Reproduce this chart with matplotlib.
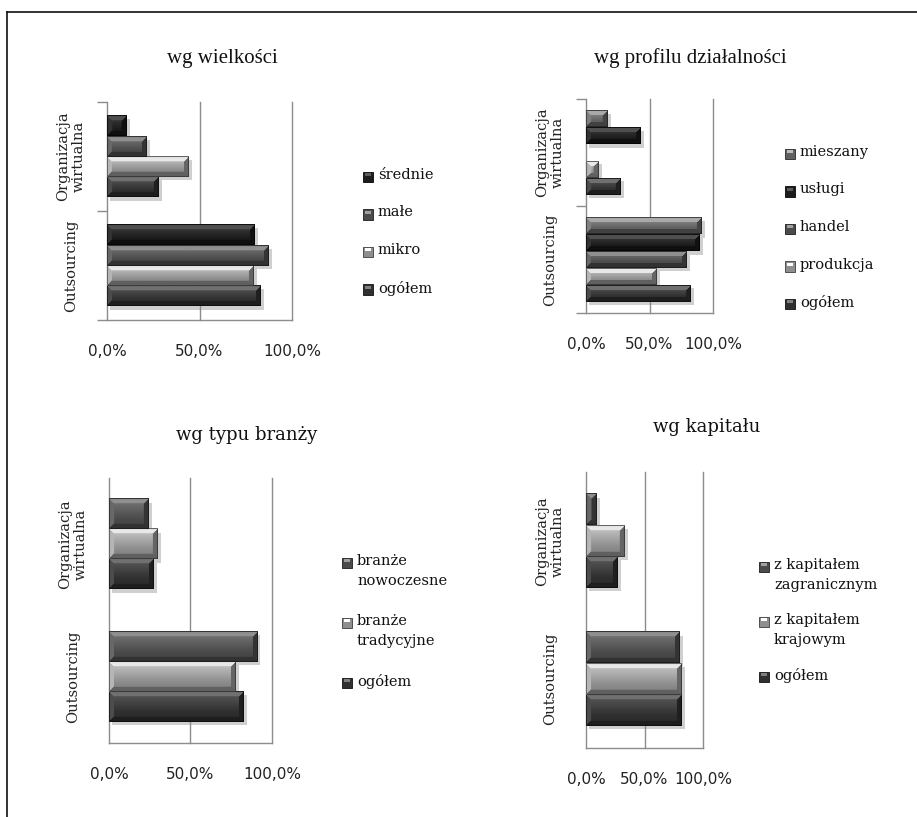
import textwrap
import numpy as np
import matplotlib
matplotlib.use("Agg")
import matplotlib.pyplot as plt
from matplotlib import patheffects
from matplotlib.patches import Rectangle
from matplotlib.lines import Line2D

# ---- data -------------------------------------------------------------
categories = ["Outsourcing", "Organizacja wirtualna"]

size_title = "wg wielkości"
size_series = ["ogółem", "mikro", "małe", "średnie"]
size_outsourcing = [83.0, 79.1, 87.2, 80.0]
size_virtual = [27.7, 44.3, 21.4, 10.3]

profile_title = "wg profilu działalności"
profile_series = ["ogółem", "produkcja", "handel", "usługi", "mieszany"]
profile_outsourcing = [82.6, 55.2, 79.4, 89.2, 90.8]
profile_virtual = [26.8, 9.7, 0.0, 43.2, 16.8]

industry_title = "wg typu branży"
industry_series = ["ogółem", "branże tradycyjne", "branże nowoczesne"]
industry_outsourcing = [82.5, 77.8, 90.8]
industry_virtual = [27.5, 29.6, 24.0]

capital_title = "wg kapitału"
capital_series = ["ogółem", "z kapitałem krajowym", "z kapitałem zagranicznym"]
capital_outsourcing = [81.6, 81.3, 80.2]
capital_virtual = [27.2, 32.6, 8.8]

x_ticks = [0, 50, 100]
x_tick_labels = ["0,0%", "50,0%", "100,0%"]

# ---- bevel shades (base, highlight, shadow) -------------------------------
SHADES = {
    "dark":   ("#303030", "#808080", "#101010"),
    "darkest": ("#1c1c1c", "#5c5c5c", "#060606"),
    "medium": ("#4b4b4b", "#a0a0a0", "#1e1e1e"),
    "mid_light": ("#606060", "#bcbcbc", "#282828"),
    "light":  ("#8e8e8e", "#ffffff", "#3c3c3c"),
}

W_PX, H_PX = 917, 817
fig = plt.figure(figsize=(W_PX / 100, H_PX / 100), dpi=100)
fig.patch.set_facecolor("white")

SERIF = ["DejaVu Serif"]
TITLE_NARROW = ["Liberation Serif"]


def px_box(x0, y0, x1, y1):
    return [x0 / W_PX, 1 - y1 / H_PX, (x1 - x0) / W_PX, (y1 - y0) / H_PX]


def hex_rgb(c):
    return np.array(matplotlib.colors.to_rgb(c))


def bevel_image(w, h, shade):
    base, hi, lo = (hex_rgb(c) for c in SHADES[shade])
    w = max(int(round(w)), 2)
    h = max(int(round(h)), 2)
    ii, jj = np.mgrid[0:h, 0:w].astype(float)
    dt, db = ii, h - 1 - ii
    dl, dr = jj, w - 1 - jj
    b = min(4.5, h / 4.0, w / 2.2)
    # face: soft vertical gradient, lighter towards the top
    t = ii / max(h - 1, 1)
    prof = np.interp(t, [0.0, 0.3, 0.6, 1.0], [0.55, 0.30, 0.05, -0.25])
    img = np.where(prof[..., None] >= 0,
                   base + (hi - base) * prof[..., None],
                   base + (base - lo) * prof[..., None])
    d = np.stack([dt, db, dl, dr], axis=-1)
    which = np.argmin(d, axis=-1)
    near = d.min(axis=-1) < b
    facet_cols = [
        hi * 0.8 + base * 0.2,
        base * 0.45 + lo * 0.55,
        base * 0.65 + hi * 0.35,
        base * 0.5 + lo * 0.5,
    ]
    for k, col in enumerate(facet_cols):
        m = near & (which == k)
        img[m] = col
    img[-1, :] = lo
    img[:, -1] = lo
    img[0, :] = base * 0.5 + lo * 0.5
    img[:, 0] = base * 0.5 + lo * 0.5
    return np.clip(img, 0, 1)


def panel(box, title, title_xy, title_font, title_size, series, outs, virt,
          shades, group_frac, ticks_out, legend_spec):
    ax = fig.add_axes(px_box(*box))
    n = len(series)
    bw = group_frac / n
    ypos = np.arange(len(categories))
    bars = []
    for i, name in enumerate(series):
        vals = [outs[i], virt[i]]
        off = (i - (n - 1) / 2) * bw
        bc = ax.barh(ypos + off, vals, height=bw, color=SHADES[shades[i]][0],
                     edgecolor="none", zorder=3)
        for p in bc:
            if p.get_width() > 0:
                p.set_path_effects([patheffects.SimplePatchShadow(
                    offset=(2.5, -2.5), shadow_rgbFace="#888888", alpha=0.4),
                    patheffects.Normal()])
        bars.append((bc, shades[i]))
    ax.set_xlim(0, 100)
    ax.set_ylim(-0.5, len(categories) - 0.5)
    ax.set_xticks(x_ticks)
    ax.set_xticklabels(x_tick_labels, fontsize=11, family="DejaVu Sans",
                       color="#222222")
    ax.tick_params(axis="x", length=0, pad=17)
    for xv in x_ticks[1:]:
        ax.axvline(xv, color="#8c8c8c", lw=1.0, zorder=1, clip_on=False)
    for s in ("top", "right"):
        ax.spines[s].set_visible(False)
    for s in ("left", "bottom"):
        ax.spines[s].set_color("#8c8c8c")
        ax.spines[s].set_linewidth(1.0)
    ax.set_yticks(ypos)
    ax.set_yticklabels([textwrap.fill(c, 12) for c in categories],
                       rotation=90, va="center", ha="center",
                       family=SERIF, fontsize=10.5, linespacing=1.1,
                       color="#222222")
    ax.tick_params(axis="y", length=0, pad=26)
    if ticks_out:
        ax.set_yticks(np.arange(-0.5, len(categories), 1.0), minor=True)
        ax.tick_params(axis="y", which="minor", length=7, width=1.0,
                       color="#8c8c8c", direction="out")
    ax.set_facecolor("none")
    fig.text(title_xy[0] / W_PX, 1 - title_xy[1] / H_PX, title,
             family=title_font, fontsize=title_size, ha="center", va="center",
             color="#111111")

    # legend, drawn in the order Excel lists it (last series on top)
    mx, y0, step = legend_spec
    for k, name in enumerate(reversed(series)):
        shade = shades[len(series) - 1 - k]
        yy = y0 + k * step
        sq = 10
        fig.patches.append(Rectangle(((mx) / W_PX, 1 - (yy + sq / 2) / H_PX),
                                     sq / W_PX, sq / H_PX,
                                     transform=fig.transFigure,
                                     facecolor=SHADES[shade][0],
                                     edgecolor=SHADES[shade][2], lw=0.6))
        fig.patches.append(Rectangle(((mx + 2) / W_PX, 1 - (yy - 1) / H_PX),
                                     (sq - 4) / W_PX, 3 / H_PX,
                                     transform=fig.transFigure,
                                     facecolor=SHADES[shade][1],
                                     edgecolor="none"))
        fig.text((mx + 15) / W_PX, 1 - (yy - 9) / H_PX,
                 textwrap.fill(name, 12), family=SERIF, fontsize=10.5,
                 ha="left", va="top", linespacing=1.55, color="#111111")
    return ax, bars


panels = [
    panel((107, 102, 292, 320), size_title, (222, 58), TITLE_NARROW, 15,
          size_series, size_outsourcing, size_virtual,
          ["dark", "light", "medium", "darkest"], 0.75, True,
          (363, 177, 37.5)),
    panel((586, 99, 713, 313), profile_title, (690, 58), TITLE_NARROW, 15,
          profile_series, profile_outsourcing, profile_virtual,
          ["dark", "light", "medium", "darkest", "mid_light"], 0.79, True,
          (785, 154, 37.5)),
    panel((109, 478, 272, 743), industry_title, (247, 435), SERIF, 13,
          industry_series, industry_outsourcing, industry_virtual,
          ["dark", "light", "medium"], 0.68, False,
          (342, 563, 60)),
    panel((586, 472, 703, 748), capital_title, (707, 427), SERIF, 13,
          capital_series, capital_outsourcing, capital_virtual,
          ["dark", "light", "medium"], 0.68, False,
          (759, 567, 55)),
]

# outer frame
fig.add_artist(Line2D([7 / W_PX, 1.0], [1 - 12 / H_PX, 1 - 12 / H_PX],
                      transform=fig.transFigure, color="#111111", lw=1.2))
fig.add_artist(Line2D([7 / W_PX, 7 / W_PX], [0, 1 - 12 / H_PX],
                      transform=fig.transFigure, color="#111111", lw=1.2))

# bevelled fill for every bar, sized to its on-screen extent
fig.canvas.draw()
for ax, bars in panels:
    for bc, shade in bars:
        for p in bc:
            if p.get_width() <= 0:
                continue
            ext = p.get_window_extent()
            img = bevel_image(ext.width, ext.height, shade)
            x0, y0 = p.get_x(), p.get_y()
            ax.imshow(img, extent=(x0, x0 + p.get_width(), y0, y0 + p.get_height()),
                      aspect="auto", zorder=3.5, interpolation="bilinear")
    ax.set_xlim(0, 100)
    ax.set_ylim(-0.5, len(categories) - 0.5)

fig.savefig("out.png", dpi=100, facecolor="white")
